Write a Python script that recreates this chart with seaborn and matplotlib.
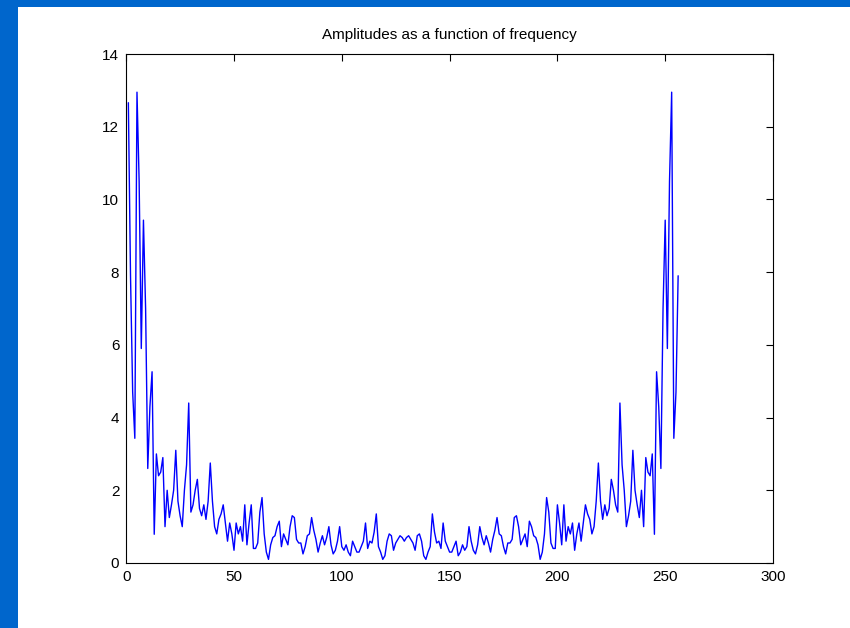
import numpy as np
import pandas as pd
import matplotlib
matplotlib.use("Agg")
import matplotlib.pyplot as plt
from matplotlib.patches import Rectangle
import seaborn as sns

sns.set_theme(style="white")
plt.rcParams['font.family'] = ['Liberation Sans Narrow', 'Liberation Sans', 'DejaVu Sans']

title = "Amplitudes as a function of frequency"
x_ticks = [0, 50, 100, 150, 200, 250, 300]
y_ticks = [0, 2, 4, 6, 8, 10, 12, 14]

# amplitude for index 1..129
amp_low = [
    12.66, 7.9, 4.7, 3.43, 12.95, 10.5, 5.9, 9.43, 7.0, 2.6,
    4.3, 5.26, 0.79, 3.0, 2.4, 2.5, 2.9, 1.0, 2.0, 1.25,
    1.6, 2.0, 3.1, 1.7, 1.3, 1.0, 2.0, 2.7, 4.4, 1.4,
    1.6, 2.0, 2.3, 1.5, 1.3, 1.6, 1.2, 1.7, 2.75, 1.7,
    1.0, 0.8, 1.2, 1.35, 1.6, 1.1, 0.6, 1.1, 0.8, 0.35,
    1.1, 0.8, 1.0, 0.6, 1.6, 0.5, 1.1, 1.6, 0.4, 0.4,
    0.55, 1.4, 1.8, 0.8, 0.3, 0.1, 0.5, 0.7, 0.75, 1.0,
    1.15, 0.45, 0.8, 0.65, 0.5, 1.0, 1.3, 1.25, 0.65, 0.55,
    0.55, 0.25, 0.45, 0.75, 0.8, 1.25, 0.9, 0.65, 0.3, 0.55,
    0.75, 0.5, 0.7, 1.0, 0.5, 0.25, 0.35, 0.6, 1.0, 0.45,
    0.35, 0.5, 0.3, 0.2, 0.6, 0.45, 0.3, 0.3, 0.45, 0.6,
    1.1, 0.4, 0.6, 0.55, 0.85, 1.35, 0.45, 0.3, 0.1, 0.2,
    0.6, 0.8, 0.75, 0.35, 0.55, 0.65, 0.75, 0.7, 0.6,
]
# amplitude for index 130..256
amp_high = [
    0.7, 0.75, 0.65, 0.55, 0.35, 0.75, 0.8, 0.6, 0.2, 0.1,
    0.3, 0.45, 1.35, 0.85, 0.55, 0.6, 0.4, 1.1, 0.6, 0.45,
    0.3, 0.3, 0.45, 0.6, 0.2, 0.3, 0.5, 0.35, 0.45, 1.0,
    0.6, 0.35, 0.25, 0.5, 1.0, 0.7, 0.5, 0.75, 0.55, 0.3,
    0.65, 0.9, 1.25, 0.8, 0.75, 0.45, 0.25, 0.55, 0.55, 0.65,
    1.25, 1.3, 1.0, 0.5, 0.65, 0.8, 0.45, 1.15, 1.0, 0.75,
    0.7, 0.5, 0.1, 0.3, 0.8, 1.8, 1.4, 0.55, 0.4, 0.4,
    1.6, 1.1, 0.5, 1.6, 0.6, 1.0, 0.8, 1.1, 0.35, 0.8,
    1.1, 0.6, 1.1, 1.6, 1.35, 1.2, 0.8, 1.0, 1.7, 2.75,
    1.7, 1.2, 1.6, 1.3, 1.5, 2.3, 2.0, 1.6, 1.4, 4.4,
    2.7, 2.0, 1.0, 1.3, 1.7, 3.1, 2.0, 1.6, 1.25, 2.0,
    1.0, 2.9, 2.5, 2.4, 3.0, 0.79, 5.26, 4.3, 2.6, 7.0,
    9.43, 5.9, 10.5, 12.95, 3.43, 4.7, 7.9,
]
amplitude = amp_low + amp_high
freq_index = list(range(1, len(amplitude) + 1))

df = pd.DataFrame({"index": freq_index, "amplitude": amplitude})

W, H = 850, 628
fig = plt.figure(figsize=(W / 100, H / 100), dpi=100, facecolor="white")
blue = "#0066cc"
fig.patches.append(Rectangle((0, 0), 18 / W, 1, transform=fig.transFigure,
                             facecolor=blue, edgecolor="none", zorder=0))
fig.patches.append(Rectangle((0, 1 - 7 / H), 1, 7 / H, transform=fig.transFigure,
                             facecolor=blue, edgecolor="none", zorder=0))

left, right, top, bottom = 126.2, 773, 54, 563
ax = fig.add_axes([left / W, (H - bottom) / H, (right - left) / W, (bottom - top) / H])
ax.set_facecolor("white")

sns.lineplot(data=df, x="index", y="amplitude", color="blue", lw=1.0, ax=ax)

ax.set_xlim(0, 300)
ax.set_ylim(0, 14)
ax.set_xticks(x_ticks)
ax.set_yticks(y_ticks)
ax.set_xlabel("")
ax.set_ylabel("")
ax.tick_params(direction="in", top=True, right=True, length=5, width=0.8,
               colors="black", labelsize=11, pad=5)
for sp in ax.spines.values():
    sp.set_color("black")
    sp.set_linewidth(0.8)
ax.set_title(title, fontsize=11, pad=11, color="black")

fig.savefig("out.png", dpi=100, facecolor="white")
